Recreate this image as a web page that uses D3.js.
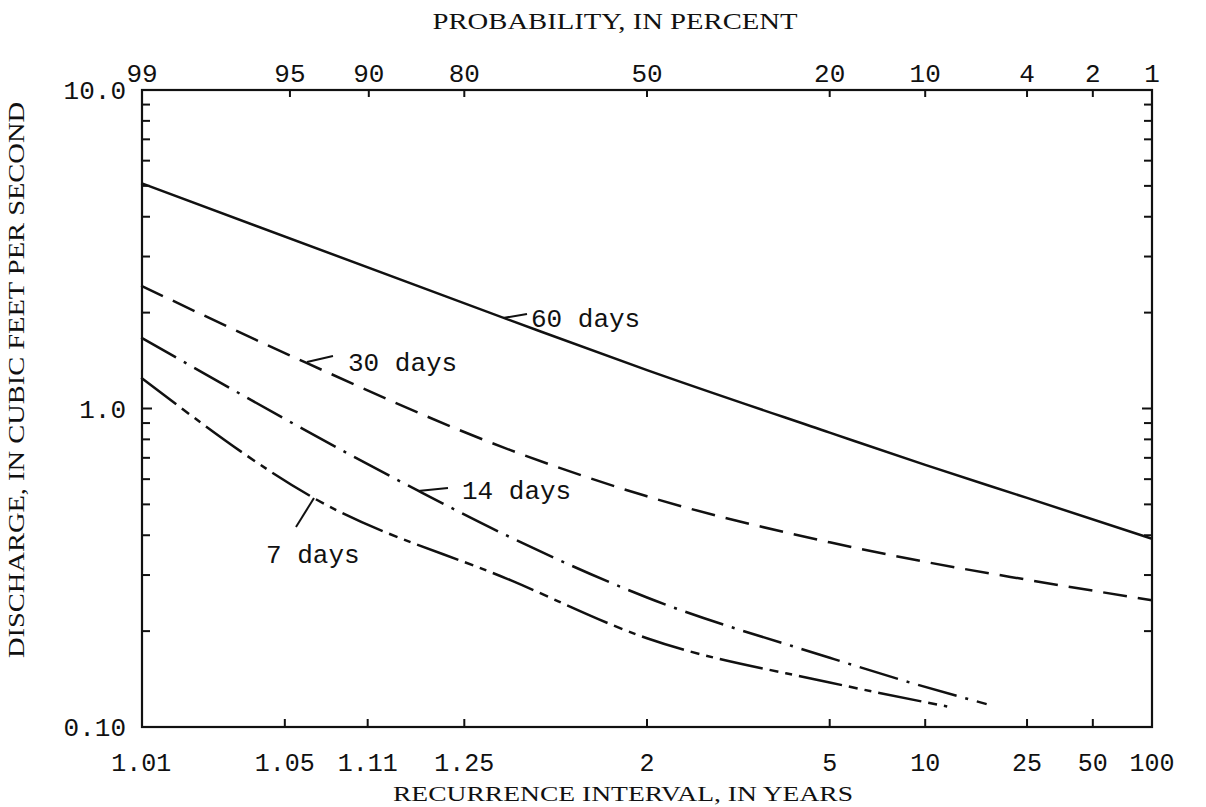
<!DOCTYPE html>
<html><head><meta charset="utf-8">
<script src="https://cdn.jsdelivr.net/npm/d3@7"></script>
<style>body{margin:0;background:#fff}</style>
</head><body>
<svg id="c" width="1206" height="807"></svg>
<script>
// Data (recurrence interval in years, discharge in cfs)
const probTicks = [99, 95, 90, 80, 50, 20, 10, 4, 2, 1];
const probLabels = ["99","95","90","80","50","20","10","4","2","1"];
const recTicks = [1.01, 1.05, 1.11, 1.25, 2, 5, 10, 25, 50, 100];
const recLabels = ["1.01","1.05","1.11","1.25","2","5","10","25","50","100"];
const yLabelVals = [10, 1, 0.1];
const yLabels = ["10.0","1.0","0.10"];
const yMinorTicks = [9,8,7,6,5,4,3,2,0.9,0.8,0.7,0.6,0.5,0.4,0.3,0.2];
const days60 = [[1.01,5.1],[1.36,1.89],[2,1.32],[5,0.84],[10,0.665],[25,0.524],[100,0.39]];
const days30 = [[1.01,2.43],[1.062,1.39],[1.36,0.74],[2,0.53],[5,0.38],[10,0.33],[25,0.29],[100,0.25]];
const days14 = [[1.01,1.67],[1.17,0.553],[1.36,0.394],[2,0.255],[5,0.165],[8.4,0.14],[17,0.118]];
const days7  = [[1.01,1.25],[1.067,0.522],[1.36,0.289],[2,0.19],[5,0.138],[12,0.116]];

function probit(p){
  const a=[-39.69683028665376,220.9460984245205,-275.9285104469687,138.3577518672690,-30.66479806614716,2.506628277459239];
  const b=[-54.47609879822406,161.5858368580409,-155.6989798598866,66.80131188771972,-13.28068155288572];
  const c=[-0.007784894002430293,-0.3223964580411365,-2.400758277161838,-2.549732539343734,4.374664141464968,2.938163982698783];
  const d=[0.007784695709041462,0.3224671290700398,2.445134137142996,3.754408661907416];
  const pl=0.02425, ph=1-pl; let q,r;
  if(p<pl){q=Math.sqrt(-2*Math.log(p));return (((((c[0]*q+c[1])*q+c[2])*q+c[3])*q+c[4])*q+c[5])/((((d[0]*q+d[1])*q+d[2])*q+d[3])*q+1);}
  if(p>ph){q=Math.sqrt(-2*Math.log(1-p));return -(((((c[0]*q+c[1])*q+c[2])*q+c[3])*q+c[4])*q+c[5])/((((d[0]*q+d[1])*q+d[2])*q+d[3])*q+1);}
  q=p-0.5;r=q*q;return (((((a[0]*r+a[1])*r+a[2])*r+a[3])*r+a[4])*r+a[5])*q/(((((b[0]*r+b[1])*r+b[2])*r+b[3])*r+b[4])*r+1);
}
const L=142,R=1152,T=90,B=727;
const zScale = d3.scaleLinear().domain([probit(0.01), probit(0.99)]).range([L,R]);
const xP = p => zScale(probit(1 - p/100));
const xT = t => zScale(probit(Math.min(0.99, 1 - 1/t)));
const y = d3.scaleLog().domain([0.1,10]).range([B,T]);

const svg = d3.select("#c");
const font = "'Liberation Mono', monospace";
const serif = "'Liberation Serif', serif";
const ink = "#111";

svg.append("rect").attr("x",L).attr("y",T).attr("width",R-L).attr("height",B-T)
  .attr("fill","none").attr("stroke",ink).attr("stroke-width",2.2);

probTicks.forEach((p,i)=>{
  const x=xP(p);
  if(i>0 && i<probTicks.length-1) svg.append("line").attr("x1",x).attr("x2",x).attr("y1",T).attr("y2",T+7).attr("stroke",ink).attr("stroke-width",2);
  svg.append("text").attr("x",x).attr("y",T-8).attr("text-anchor","middle").attr("font-family",font).attr("font-size",26).attr("fill",ink).text(probLabels[i]);
});
recTicks.forEach((t,i)=>{
  const x=xT(t);
  if(i>0 && i<recTicks.length-1) svg.append("line").attr("x1",x).attr("x2",x).attr("y1",B).attr("y2",B-8).attr("stroke",ink).attr("stroke-width",2);
  svg.append("text").attr("x",x).attr("y",B+44).attr("text-anchor","middle").attr("font-family",font).attr("font-size",25).attr("fill",ink).text(recLabels[i]);
});
yMinorTicks.concat([1]).forEach(v=>{
  const len = v===1?10:8;
  svg.append("line").attr("x1",L).attr("x2",L+len).attr("y1",y(v)).attr("y2",y(v)).attr("stroke",ink).attr("stroke-width",2);
  svg.append("line").attr("x1",R).attr("x2",R-len).attr("y1",y(v)).attr("y2",y(v)).attr("stroke",ink).attr("stroke-width",2);
});
yLabelVals.forEach((v,i)=>{
  svg.append("text").attr("x",L-16).attr("y",y(v)+9).attr("text-anchor","end").attr("font-family",font).attr("font-size",26).attr("fill",ink).text(yLabels[i]);
});

svg.append("text").attr("x",615).attr("y",29).attr("text-anchor","middle").attr("font-family",serif).attr("font-size",23)
  .attr("textLength",365).attr("lengthAdjust","spacingAndGlyphs").attr("fill",ink).text("PROBABILITY, IN PERCENT");
svg.append("text").attr("x",623).attr("y",801).attr("text-anchor","middle").attr("font-family",serif).attr("font-size",22)
  .attr("textLength",460).attr("lengthAdjust","spacingAndGlyphs").attr("fill",ink).text("RECURRENCE INTERVAL, IN YEARS");
svg.append("text").attr("transform","translate(24,380) rotate(-90)").attr("text-anchor","middle").attr("font-family",serif).attr("font-size",23)
  .attr("textLength",556).attr("lengthAdjust","spacingAndGlyphs").attr("fill",ink).text("DISCHARGE, IN CUBIC FEET PER SECOND");

const line = d3.line().x(d=>xT(d[0])).y(d=>y(d[1])).curve(d3.curveMonotoneX);
const series = [
  {data:days60, dash:null},
  {data:days30, dash:"24 11"},
  {data:days14, dash:"40 9 3 9"},
  {data:days7,  dash:"44 7 9 7 7 7"}
];
series.forEach(s=>{
  svg.append("path").datum(s.data).attr("d",line).attr("fill","none").attr("stroke",ink)
    .attr("stroke-width",2.5).attr("stroke-dasharray",s.dash);
});

const labels = [
  {t:"60 days", x:531, y:327, lx1:503, ly1:318, lx2:527, ly2:314},
  {t:"30 days", x:348, y:371, lx1:307, ly1:362, lx2:333, ly2:356},
  {t:"14 days", x:462, y:499, lx1:418, ly1:491, lx2:448, ly2:488},
  {t:"7 days",  x:266, y:563, lx1:296, ly1:527, lx2:314, ly2:498}
];
labels.forEach(l=>{
  svg.append("line").attr("x1",l.lx1).attr("y1",l.ly1).attr("x2",l.lx2).attr("y2",l.ly2).attr("stroke",ink).attr("stroke-width",2);
  svg.append("text").attr("x",l.x).attr("y",l.y).attr("font-family",font).attr("font-size",26).attr("fill",ink).text(l.t);
});
</script>
</body></html>
